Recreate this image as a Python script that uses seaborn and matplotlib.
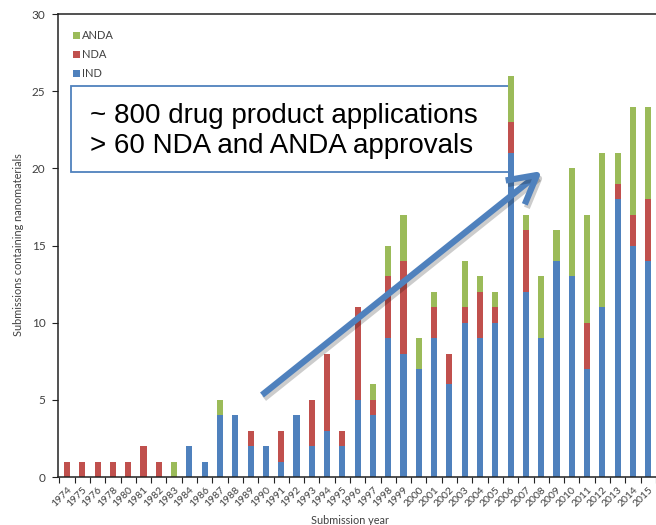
import matplotlib
matplotlib.use("Agg")
import matplotlib.pyplot as plt
import matplotlib.patheffects as pe
from matplotlib.patches import Rectangle, Patch
from matplotlib.ticker import FixedLocator
import seaborn as sns
import pandas as pd
import numpy as np

years = ["1974", "1975", "1976", "1978", "1980", "1981", "1982", "1983", "1984", "1986",
         "1987", "1988", "1989", "1990", "1991", "1992", "1993", "1994", "1995", "1996",
         "1997", "1998", "1999", "2000", "2001", "2002", "2003", "2004", "2005", "2006",
         "2007", "2008", "2009", "2010", "2011", "2012", "2013", "2014", "2015"]
ind = [0, 0, 0, 0, 0, 0, 0, 0, 2, 1,
       4, 4, 2, 2, 1, 4, 2, 3, 2, 5,
       4, 9, 8, 7, 9, 6, 10, 9, 10, 21,
       12, 9, 14, 13, 7, 11, 18, 15, 14]
nda = [1, 1, 1, 1, 1, 2, 1, 0, 0, 0,
       0, 0, 1, 0, 2, 0, 3, 5, 1, 6,
       1, 4, 6, 0, 2, 2, 1, 3, 1, 2,
       4, 0, 0, 0, 3, 0, 1, 2, 4]
anda = [0, 0, 0, 0, 0, 0, 0, 1, 0, 0,
        1, 0, 0, 0, 0, 0, 0, 0, 0, 0,
        1, 2, 3, 2, 1, 0, 3, 1, 1, 3,
        1, 4, 2, 7, 7, 10, 2, 7, 6]
series_names = ["ANDA", "NDA", "IND"]
series_colors = ["#9BBB59", "#C0504D", "#4F81BD"]
yticks = [0, 5, 10, 15, 20, 25, 30]

df = pd.DataFrame({"year": years, "IND": ind, "NDA": nda, "ANDA": anda})
df["lvl_ind"] = df["IND"]
df["lvl_nda"] = df["IND"] + df["NDA"]
df["lvl_anda"] = df["IND"] + df["NDA"] + df["ANDA"]

sns.set_style("white")
plt.rcParams["font.family"] = ["Lato", "DejaVu Sans"]

W, H = 656, 525
fig = plt.figure(figsize=(W / 100, H / 100), dpi=100)
ax = fig.add_axes([58 / W, 1 - 477 / H, (W - 58 + 3) / W, (477 - 14) / H])

gray = "#404040"
for col, c in zip(["lvl_anda", "lvl_nda", "lvl_ind"], series_colors):
    sns.barplot(data=df, x="year", y=col, order=years, color=c, width=0.4,
                saturation=1, ax=ax, zorder=2, linewidth=0)

ax.set_xlim(-0.59, 38.7)
ax.set_ylim(0, 30)
ax.set_yticks(yticks)
ax.set_xlabel("")
ax.set_ylabel("")

for s in ["left", "top", "bottom"]:
    ax.spines[s].set_visible(True)
    ax.spines[s].set_color("#222222")
    ax.spines[s].set_linewidth(1.1)
ax.spines["right"].set_visible(False)

ax.tick_params(axis="y", which="major", direction="out", length=4, width=0.8,
               color="#222222", labelsize=8.5, labelcolor=gray, pad=5, left=True)
ax.set_xticks(range(len(years)))
ax.set_xticklabels(years, rotation=45, ha="right", rotation_mode="anchor")
ax.tick_params(axis="x", which="major", length=0, labelsize=7.5, labelcolor=gray, pad=6)
ax.xaxis.set_minor_locator(FixedLocator(np.arange(len(years) + 1) - 0.5))
ax.tick_params(axis="x", which="minor", direction="out", length=4, width=0.8,
               color="#222222", bottom=True)

handles = [Patch(facecolor=c, edgecolor="none", label=n) for n, c in zip(series_names, series_colors)]
leg = fig.legend(handles=handles, loc="upper left", bbox_to_anchor=(73 / W, 1 - 30 / H),
                 frameon=False, fontsize=8, handlelength=0.6, handleheight=0.6,
                 handletextpad=0.25, labelspacing=0.72, borderpad=0, borderaxespad=0)
for t in leg.get_texts():
    t.set_color(gray)

fig.text(19 / W, 1 - 245 / H, "Submissions containing nanomaterials", rotation=90,
         ha="center", va="center", fontsize=7.8, color=gray)
fig.text(350 / W, 1 - 520 / H, "Submission year", ha="center", va="center",
         fontsize=7.8, color=gray)

box = Rectangle((71 / W, 1 - 172.5 / H), (513 - 71) / W, (172.5 - 86) / H,
                transform=fig.transFigure, facecolor="white", edgecolor="#4F81BD",
                linewidth=1.3, zorder=1.5, clip_on=False)
ax.add_patch(box)
fig.text(90 / W, 1 - 122.7 / H, "~ 800 drug product applications", ha="left",
         va="baseline", fontsize=20, family=["Liberation Sans"], color="black")
fig.text(90 / W, 1 - 153 / H, "> 60 NDA and ANDA approvals", ha="left",
         va="baseline", fontsize=20, family=["Liberation Sans"], color="black")

ax.annotate("", xy=(542 / W, 1 - 171 / H), xytext=(262 / W, 1 - 395 / H),
            xycoords="figure fraction", textcoords="figure fraction",
            arrowprops=dict(arrowstyle="->,head_length=1.0,head_width=0.55",
                            color="#4F81BD", lw=4.5, mutation_scale=20,
                            shrinkA=0, shrinkB=0, capstyle="butt",
                            path_effects=[pe.SimpleLineShadow(offset=(1.5, -2.5), alpha=0.2),
                                          pe.Normal()]),
            zorder=5, annotation_clip=False)

fig.savefig("out.png", dpi=100)
